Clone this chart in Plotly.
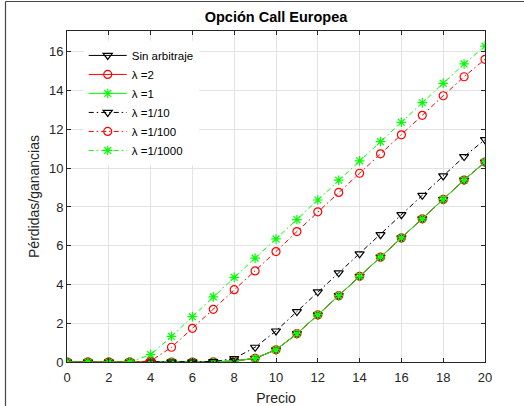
import plotly.graph_objects as go

# Precio del subyacente
precio = list(range(0, 21))

# Pérdidas/ganancias de cada estrategia
sin_arbitraje = [0, 0, 0, 0, 0, 0, 0, 0.01, 0.05, 0.19, 0.63, 1.46, 2.43, 3.42, 4.42, 5.41, 6.40, 7.39, 8.39, 9.39, 10.32]
lambda_2 = [0, 0, 0, 0, 0, 0, 0, 0.01, 0.05, 0.19, 0.63, 1.46, 2.43, 3.42, 4.42, 5.41, 6.40, 7.39, 8.39, 9.39, 10.32]
lambda_1 = [0, 0, 0, 0, 0, 0, 0, 0.01, 0.05, 0.19, 0.63, 1.46, 2.43, 3.42, 4.42, 5.41, 6.40, 7.39, 8.39, 9.39, 10.32]
lambda_1_10 = [0, 0, 0, 0, 0, 0, 0, 0.02, 0.18, 0.76, 1.60, 2.60, 3.62, 4.60, 5.58, 6.57, 7.60, 8.60, 9.60, 10.60, 11.47]
lambda_1_100 = [0, 0, 0, 0, 0.05, 0.76, 1.74, 2.72, 3.73, 4.70, 5.70, 6.73, 7.75, 8.75, 9.74, 10.74, 11.72, 12.73, 13.74, 14.72, 15.62]
lambda_1_1000 = [0, 0, 0, 0, 0.38, 1.32, 2.34, 3.36, 4.37, 5.36, 6.35, 7.35, 8.36, 9.38, 10.38, 11.37, 12.37, 13.38, 14.38, 15.38, 16.30]

dashdot = "5px,3px,1.5px,3px"
series = [
    ("Sin arbitraje", sin_arbitraje, "#000000", "solid", "triangle-down-open"),
    ("λ =2", lambda_2, "#ff0000", "solid", "circle-open"),
    ("λ =1", lambda_1, "#00ff00", "solid", "asterisk-open"),
    ("λ =1/10", lambda_1_10, "#000000", dashdot, "triangle-down-open"),
    ("λ =1/100", lambda_1_100, "#ff0000", dashdot, "circle-open"),
    ("λ =1/1000", lambda_1_1000, "#00ff00", dashdot, "asterisk-open"),
]

fig = go.Figure()
for name, vals, color, dash, symbol in series:
    fig.add_trace(go.Scatter(
        x=precio, y=vals, name=name, mode="lines+markers",
        line=dict(color=color, width=1, dash=dash),
        marker=dict(symbol=symbol, size=8, color=color, line=dict(color=color, width=1.2)),
    ))

axis_color = "#262626"
grid_color = "#e3e3e3"
font_family = "Liberation Sans, Arial, sans-serif"

fig.update_layout(
    width=524, height=406,
    margin=dict(l=67, r=39, t=31, b=44, autoexpand=False),
    paper_bgcolor="white", plot_bgcolor="white",
    font=dict(family=font_family, size=13, color=axis_color),
    title=dict(text="<b>Opción Call Europea</b>", x=0.5, xref="paper", xanchor="center",
               y=1 - 17 / 406, yref="container", yanchor="middle",
               font=dict(size=14.5, color="#000000")),
    showlegend=True,
    legend=dict(x=0.04, y=0.97, xanchor="left", yanchor="top",
                bgcolor="white", borderwidth=0, itemwidth=38,
                font=dict(size=11.5, color="#000000"), tracegroupgap=0),
    xaxis=dict(range=[0, 20], dtick=2, tick0=0, showgrid=True, gridcolor=grid_color,
               showline=True, linecolor=axis_color, linewidth=1, mirror="allticks",
               ticks="inside", ticklen=4, tickcolor=axis_color, zeroline=False,
               ticklabelstandoff=3, automargin=False,
               title=dict(text="Precio", font=dict(size=14, color=axis_color), standoff=9),
               tickfont=dict(size=13, color=axis_color)),
    yaxis=dict(range=[0, 17.08], dtick=2, tick0=0, showgrid=True, gridcolor=grid_color,
               showline=True, linecolor=axis_color, linewidth=1, mirror="allticks",
               ticks="inside", ticklen=4, tickcolor=axis_color, zeroline=False,
               automargin=False,
               title=dict(text="Pérdidas/ganancias", font=dict(size=14, color=axis_color), standoff=6),
               tickfont=dict(size=13, color=axis_color)),
)

# Marco exterior de la figura (bordes superior e izquierdo)
plot_w, plot_h = 524 - 67 - 39, 406 - 31 - 44
left_x = (5.5 - 67) / plot_w
top_y = (406 - 44 - 1.5) / plot_h
fig.add_shape(type="line", xref="paper", yref="paper", x0=left_x, x1=left_x, y0=top_y, y1=-44 / plot_h - 0.01,
              line=dict(color="#444444", width=1.2))
fig.add_shape(type="line", xref="paper", yref="paper", x0=left_x, x1=(524 - 67) / plot_w + 0.01, y0=top_y, y1=top_y,
              line=dict(color="#444444", width=1.2))

fig.write_html("out.html")
